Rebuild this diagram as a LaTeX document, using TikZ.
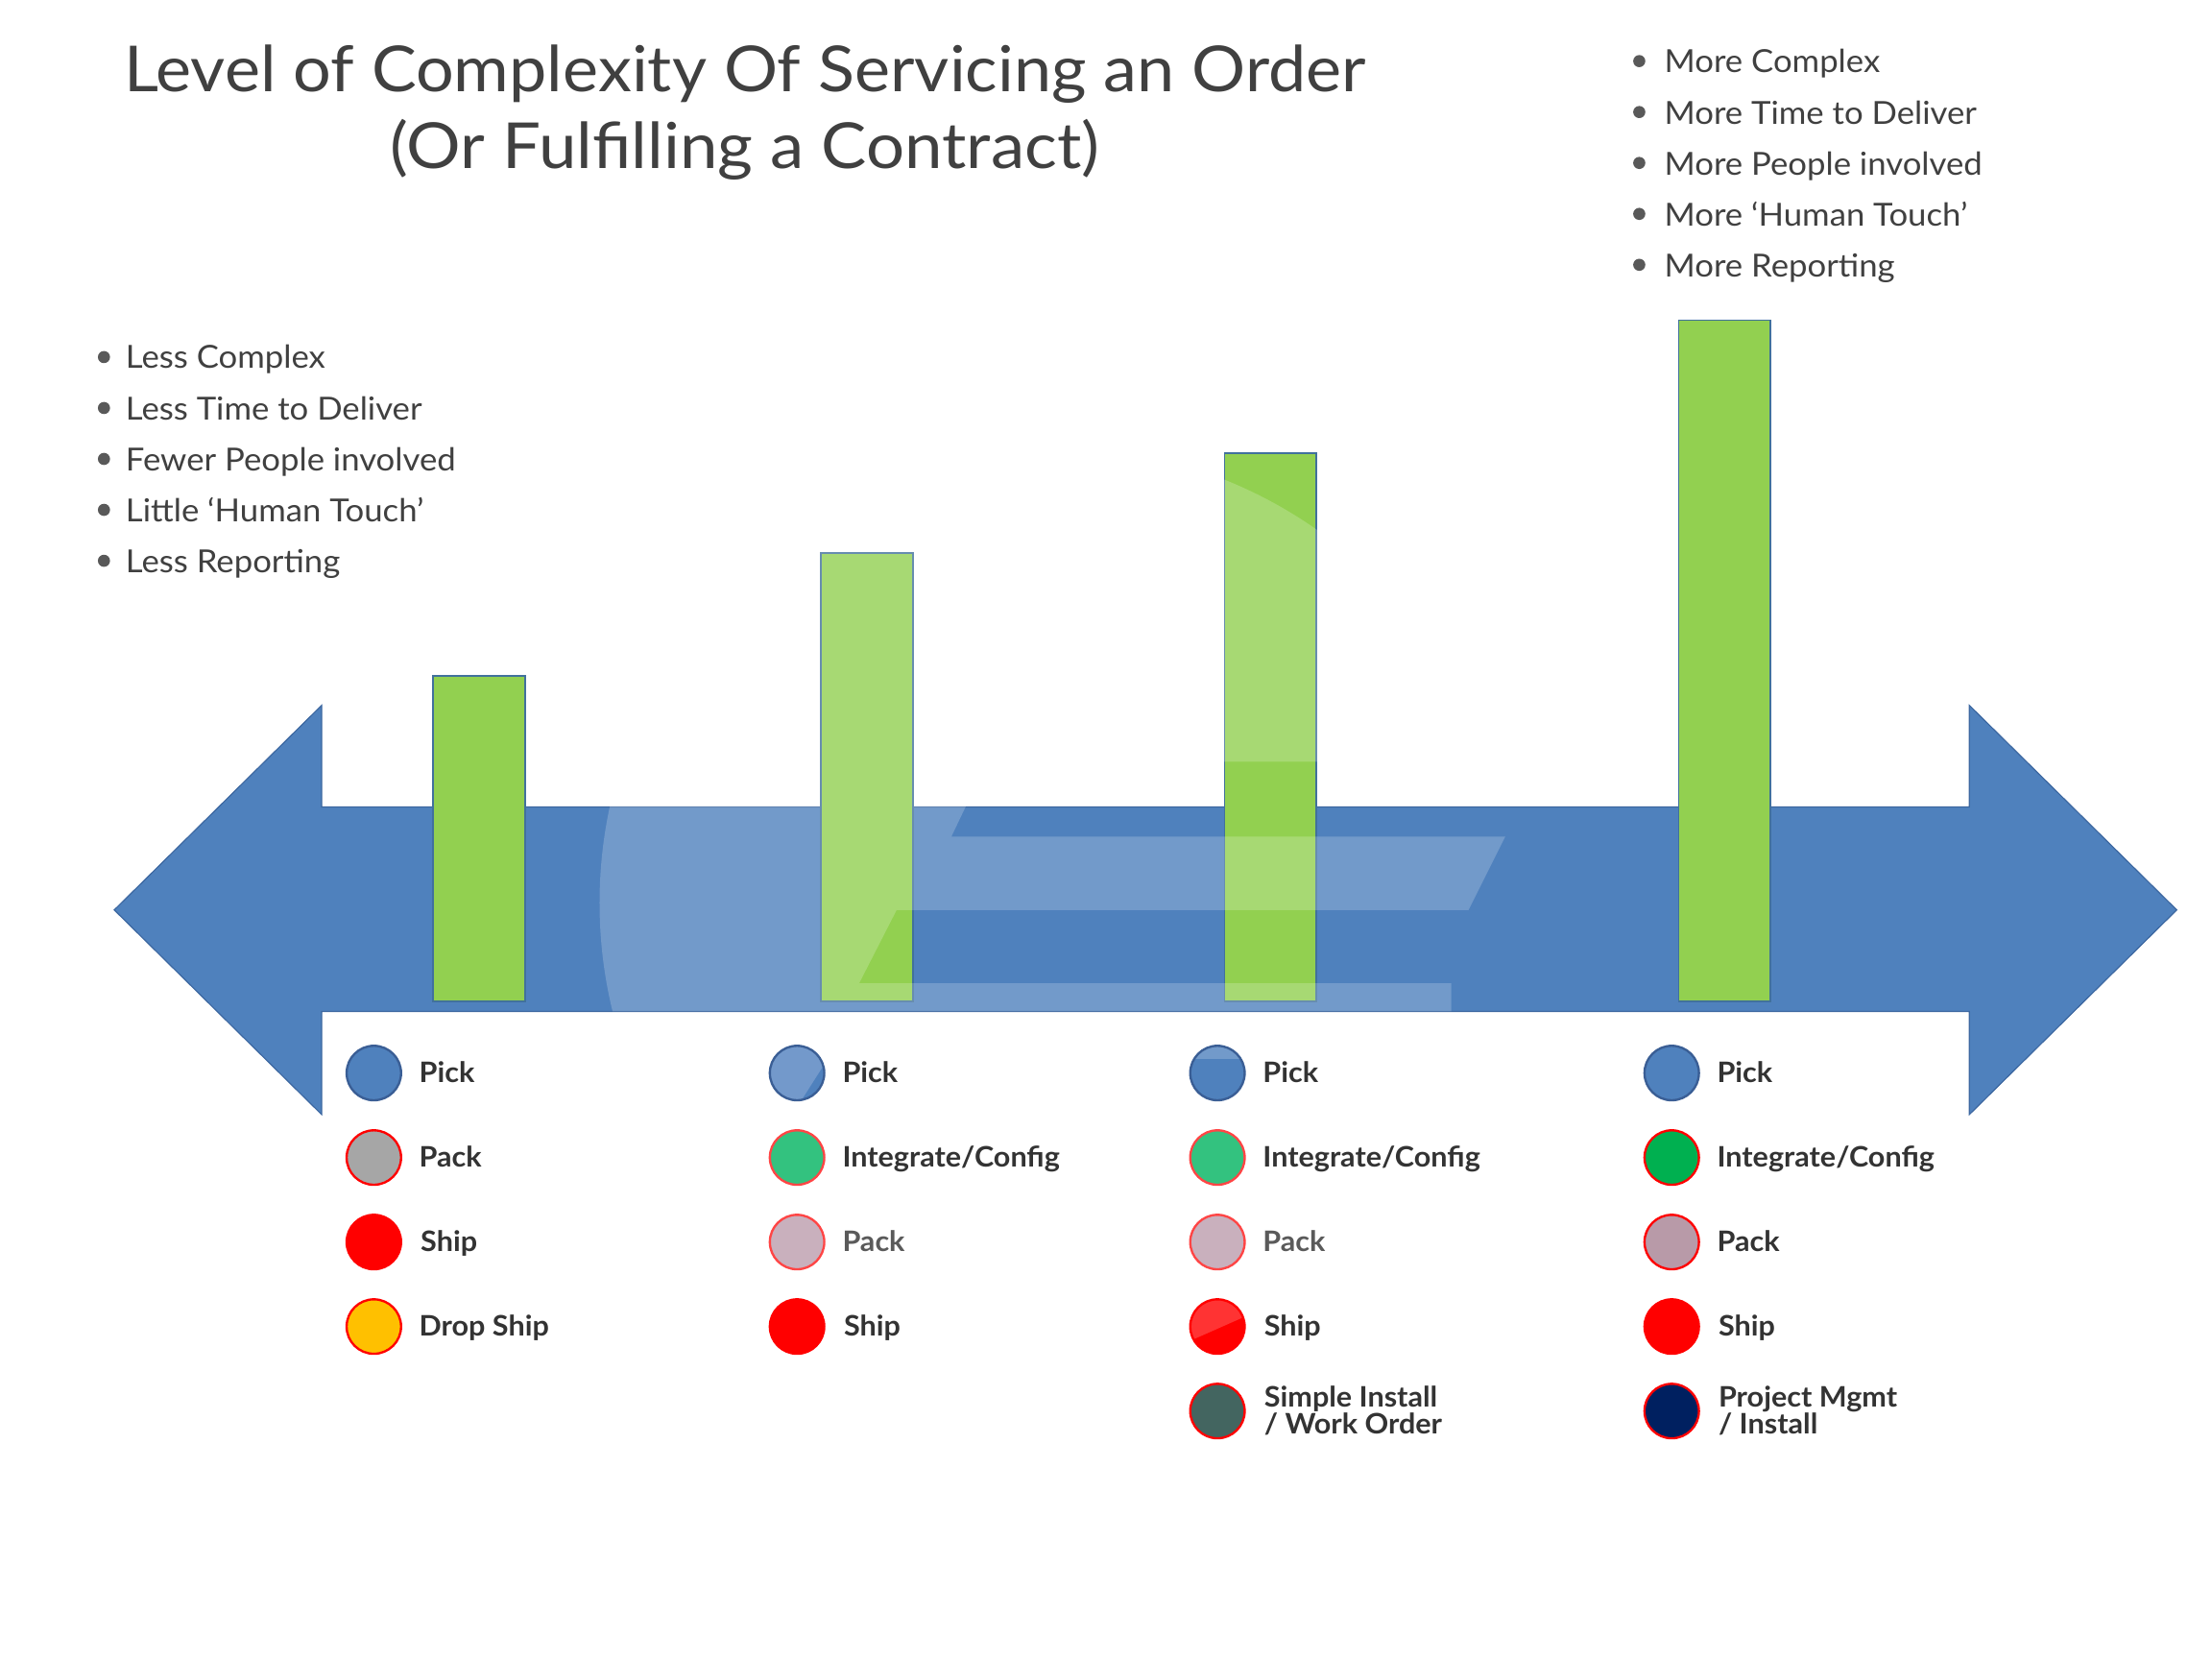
\documentclass[tikz,border=0pt]{standalone}
\usepackage{fontspec}
\setmainfont{Lato}
\definecolor{arrowc}{HTML}{4F81BD}
\definecolor{arrowline}{HTML}{3C67A0}
\definecolor{grn}{HTML}{92D050}
\definecolor{barline}{HTML}{41719C}
\definecolor{txt}{HTML}{404040}
\definecolor{labc}{HTML}{333333}
\definecolor{labl}{HTML}{5A5A5A}
\definecolor{bulc}{HTML}{595959}
\definecolor{pickline}{HTML}{3A5E95}
\definecolor{pickl}{HTML}{7399CB}
\definecolor{packg}{HTML}{A6A6A6}
\definecolor{dropc}{HTML}{FFC000}
\definecolor{intl}{HTML}{33C27F}
\definecolor{intd}{HTML}{00B050}
\definecolor{packp}{HTML}{C9B0BD}
\definecolor{packd}{HTML}{B89AA8}
\definecolor{lred}{HTML}{FF4545}
\definecolor{simplec}{HTML}{436560}
\definecolor{pmc}{HTML}{002060}
\newcommand{\wideby}[2]{\scalebox{#1}[1]{#2}}
\begin{document}
\begin{tikzpicture}[x=1pt,y=-1pt,
  dot/.style={circle,minimum size=38.6pt,inner sep=0pt,line width=1.6pt},
  pickdot/.style={dot,fill=arrowc,draw=pickline},
  lab/.style={anchor=base west,inner sep=0pt,font=\fontsize{20}{19.3}\selectfont\bfseries,text=labc,align=left},
  bul/.style={anchor=base west,inner sep=0pt,font=\fontsize{22.5}{26}\selectfont,text=txt},
  bdot/.style={circle,fill=bulc,minimum size=8.6pt,inner sep=0pt},
  bar/.style={fill=grn,draw=barline,line width=1.2pt},
  ttl/.style={anchor=base,inner sep=0pt,font=\fontsize{45}{54}\selectfont,text=txt},
]
\useasboundingbox[fill=white] (0,0) rectangle (1568,1176);

% title
\node[ttl] (title1) at (528,65.3) {\wideby{1.06}{Level of Complexity Of Servicing an Order}};
\node[ttl] (title2) at (528,119.6) {\wideby{1.07}{(Or Fulfilling a Contract)}};

% top-right bullets
\foreach \t [count=\i] in {More Complex,More Time to Deliver,More People involved,More {\textquoteleft}Human Touch{\textquoteright},More Reporting}{
  \node[bdot] (rb\i) at (1162,{51.7+36.1*(\i-1)-8.4}) {};
  \node[bul] (rt\i) at (1179.6,{51.7+36.1*(\i-1)}) {\wideby{1.05}{\t}};
}
% left bullets
\foreach \t [count=\i] in {Less Complex,Less Time to Deliver,Fewer People involved,Little {\textquoteleft}Human Touch{\textquoteright},Less Reporting}{
  \node[bdot] (lb\i) at (73.7,{261.3+36.1*(\i-1)-8.2}) {};
  \node[bul] (lt\i) at (88.9,{261.3+36.1*(\i-1)}) {\wideby{1.05}{\t}};
}

% double arrow
\filldraw[fill=arrowc,draw=arrowline,line width=0.8pt]
  (81,645) -- (228,500) -- (228,572) -- (1396,572) -- (1396,500) -- (1543,645)
  -- (1396,790) -- (1396,717) -- (228,717) -- (228,790) -- cycle;

% bars
\draw[bar] (307,479) rectangle (372,710);
\draw[bar] (582,392) rectangle (647,710);
\draw[bar] (868,321) rectangle (933,710);
\draw[bar] (1190,227) rectangle (1255,710);

% gloss overlay
\begin{scope}
\clip (748,640) circle[radius=323];
\fill[white,fill opacity=0.2] (300,250) -- (1200,250) -- (1200,540) -- (699.7,540)
  -- (674.4,593) -- (1067,593) -- (1041,645) -- (635.6,645) -- (609,697)
  -- (1028.8,697) -- (1028.8,716.8) -- (300,716.8) -- cycle;
\end{scope}

% legend column 1
\node[pickdot] (c1a) at (265,760.6) {};
\node[dot,fill=packg,draw=red] (c1b) at (265,820.5) {};
\node[dot,fill=red,draw=red] (c1c) at (265,880.4) {};
\node[dot,fill=dropc,draw=red] (c1d) at (265,940.3) {};
\node[lab] (t1a) at (297,767.6) {\wideby{1.04}{Pick}};
\node[lab] (t1b) at (297,827.5) {\wideby{1.04}{Pack}};
\node[lab] (t1c) at (298,887.4) {\wideby{1.04}{Ship}};
\node[lab] (t1d) at (297,947.3) {\wideby{1.04}{Drop Ship}};

% legend column 2
\node[dot,fill=pickl,draw=pickline,path picture={
  \fill[arrowc,shift={(path picture bounding box.center)}] (28.2,-20) -- (30,-20) -- (30,22) -- (1.5,22) -- cycle;}] (c2a) at (565,760.6) {};
\node[dot,fill=intl,draw=lred] (c2b) at (565,820.5) {};
\node[dot,fill=packp,draw=lred] (c2c) at (565,880.4) {};
\node[dot,fill=red,draw=red] (c2d) at (565,940.3) {};
\node[lab] (t2a) at (597,767.6) {\wideby{1.04}{Pick}};
\node[lab] (t2b) at (597,827.5) {\wideby{1.04}{Integrate/Config}};
\node[lab,text=labl] (t2c) at (597,887.4) {\wideby{1.04}{Pack}};
\node[lab] (t2d) at (598,947.3) {\wideby{1.04}{Ship}};

% legend column 3
\node[pickdot,path picture={
  \fill[white,fill opacity=0.2,shift={(path picture bounding box.center)}] (-25,-25) rectangle (25,-10.2);}] (c3a) at (863,760.6) {};
\node[dot,fill=intl,draw=lred] (c3b) at (863,820.5) {};
\node[dot,fill=packp,draw=lred] (c3c) at (863,880.4) {};
\node[dot,fill=red,draw=red,path picture={
  \fill[white,fill opacity=0.2,shift={(path picture bounding box.center)}] (-25,-25) -- (25,-25) -- (25,-9.5) -- (-25,12.6) -- cycle;}] (c3d) at (863,940.3) {};
\node[dot,fill=simplec,draw=red] (c3e) at (863,1000.2) {};
\node[lab] (t3a) at (895,767.6) {\wideby{1.04}{Pick}};
\node[lab] (t3b) at (895,827.5) {\wideby{1.04}{Integrate/Config}};
\node[lab,text=labl] (t3c) at (895,887.4) {\wideby{1.04}{Pack}};
\node[lab] (t3d) at (896,947.3) {\wideby{1.04}{Ship}};
\node[lab] (t3e) at (896,1016.3) {\wideby{1.04}{Simple Install}\\\wideby{1.04}{/ Work Order}};

% legend column 4
\node[pickdot] (c4a) at (1185,760.6) {};
\node[dot,fill=intd,draw=red] (c4b) at (1185,820.5) {};
\node[dot,fill=packd,draw=red] (c4c) at (1185,880.4) {};
\node[dot,fill=red,draw=red] (c4d) at (1185,940.3) {};
\node[dot,fill=pmc,draw=red] (c4e) at (1185,1000.2) {};
\node[lab] (t4a) at (1217,767.6) {\wideby{1.04}{Pick}};
\node[lab] (t4b) at (1217,827.5) {\wideby{1.04}{Integrate/Config}};
\node[lab] (t4c) at (1217,887.4) {\wideby{1.04}{Pack}};
\node[lab] (t4d) at (1218,947.3) {\wideby{1.04}{Ship}};
\node[lab] (t4e) at (1218,1016.3) {\wideby{1.04}{Project Mgmt}\\\wideby{1.04}{/ Install}};
\end{tikzpicture}
\end{document}
